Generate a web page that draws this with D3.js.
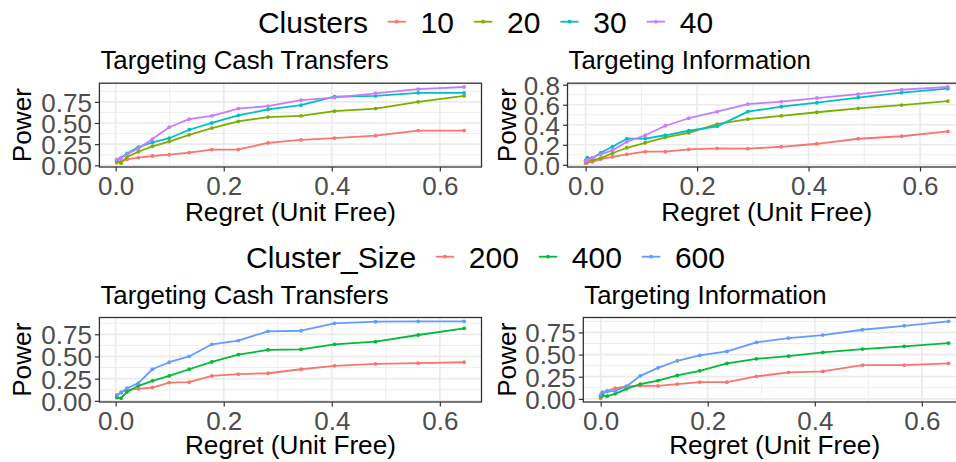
<!DOCTYPE html>
<html><head><meta charset="utf-8">
<script src="https://cdn.jsdelivr.net/npm/d3@7"></script>
<style>body{margin:0;background:#fff}svg{display:block}</style>
</head><body>
<svg id="c" width="956" height="462"></svg>
<script>
// ---------- data ----------
const clusterLevels = ["10", "20", "30", "40"];
const clusterColors = ["#F8766D", "#7CAE00", "#00BFC4", "#C77CFF"];
const sizeLevels = ["200", "400", "600"];
const sizeColors = ["#F8766D", "#00BA38", "#619CFF"];

const panelTitles = ["Targeting Cash Transfers", "Targeting Information"];
const xTickValues = [0, 0.2, 0.4, 0.6];
const yTicksQuarter = [0, 0.25, 0.5, 0.75];
const yTicksFifth = [0, 0.2, 0.4, 0.6, 0.8];

const regretCash = [0.002, 0.010, 0.021, 0.042, 0.068, 0.099, 0.136, 0.178, 0.227, 0.282, 0.343, 0.405, 0.481, 0.560, 0.645];
const regretInfo = [0.0, 0.003, 0.012, 0.027, 0.048, 0.074, 0.107, 0.143, 0.185, 0.236, 0.291, 0.351, 0.415, 0.489, 0.567, 0.650];

// Top-left: cash transfers by number of clusters
const cashClusters10 = [0.03, 0.05, 0.07, 0.09, 0.11, 0.125, 0.15, 0.185, 0.187, 0.265, 0.30, 0.32, 0.35, 0.41, 0.41];
const cashClusters20 = [0.05, 0.025, 0.10, 0.16, 0.225, 0.28, 0.36, 0.44, 0.52, 0.57, 0.585, 0.64, 0.67, 0.75, 0.82];
const cashClusters30 = [0.06, 0.09, 0.14, 0.215, 0.27, 0.32, 0.42, 0.50, 0.59, 0.66, 0.71, 0.81, 0.82, 0.855, 0.855];
const cashClusters40 = [0.07, 0.09, 0.13, 0.20, 0.31, 0.45, 0.545, 0.585, 0.67, 0.70, 0.77, 0.80, 0.85, 0.90, 0.925];

// Top-right: information by number of clusters
const infoClusters10 = [0.016, 0.023, 0.03, 0.056, 0.079, 0.105, 0.131, 0.131, 0.154, 0.164, 0.161, 0.18, 0.21, 0.26, 0.285, 0.334];
const infoClusters20 = [0.03, 0.04, 0.046, 0.066, 0.115, 0.17, 0.22, 0.275, 0.318, 0.407, 0.456, 0.489, 0.525, 0.564, 0.597, 0.636];
const infoClusters30 = [0.046, 0.072, 0.066, 0.12, 0.18, 0.26, 0.262, 0.295, 0.34, 0.384, 0.531, 0.58, 0.62, 0.672, 0.72, 0.76];
const infoClusters40 = [0.04, 0.05, 0.07, 0.105, 0.144, 0.23, 0.295, 0.39, 0.465, 0.531, 0.607, 0.63, 0.667, 0.705, 0.75, 0.777];

// Bottom-left: cash transfers by cluster size
const cashSize200 = [0.056, 0.094, 0.124, 0.135, 0.15, 0.206, 0.21, 0.281, 0.30, 0.311, 0.356, 0.394, 0.416, 0.424, 0.435];
const cashSize400 = [0.037, 0.03, 0.10, 0.169, 0.225, 0.281, 0.356, 0.439, 0.521, 0.574, 0.581, 0.637, 0.667, 0.742, 0.817];
const cashSize600 = [0.068, 0.094, 0.142, 0.20, 0.356, 0.435, 0.50, 0.637, 0.679, 0.784, 0.79, 0.874, 0.892, 0.896, 0.896];

// Bottom-right: information by cluster size
const infoSize200 = [0.008, 0.045, 0.09, 0.12, 0.14, 0.15, 0.147, 0.166, 0.188, 0.188, 0.253, 0.30, 0.31, 0.38, 0.38, 0.40];
const infoSize400 = [0.026, 0.038, 0.03, 0.057, 0.113, 0.166, 0.207, 0.264, 0.317, 0.40, 0.452, 0.482, 0.524, 0.562, 0.592, 0.63];
const infoSize600 = [0.045, 0.075, 0.083, 0.09, 0.14, 0.26, 0.35, 0.43, 0.49, 0.535, 0.637, 0.686, 0.72, 0.78, 0.825, 0.875];

// ---------- drawing ----------
const svg = d3.select("#c");
const FONT = "'Liberation Sans', Arial, Helvetica, sans-serif";
const GRID = "#EBEBEB", DARK = "#333333", TICKTXT = "#4D4D4D";

function fmt2(v){ return d3.format(".2f")(v); }
function fmt1(v){ return d3.format(".1f")(v); }

function minors(ticks, dom){
  const step = ticks[1] - ticks[0];
  const out = [];
  for (let i = -1; i < ticks.length; i++) {
    const m = (i < 0 ? ticks[0] - step : ticks[i]) + step / 2;
    if (m > dom[0] && m < dom[1]) out.push(m);
  }
  return out;
}

function panel(cfg){
  const g = svg.append("g");
  const allY = cfg.series.flat();
  const xe = d3.extent(cfg.xs), ye = d3.extent(allY);
  const xr = xe[1] - xe[0], yr = ye[1] - ye[0];
  const x = d3.scaleLinear().domain([xe[0] - 0.05 * xr, xe[1] + 0.05 * xr]).range([cfg.left, cfg.right]);
  const y = d3.scaleLinear().domain([ye[0] - 0.05 * yr, ye[1] + 0.05 * yr]).range([cfg.bottom, cfg.top]);

  // grid
  const xMin = minors(xTickValues, x.domain()), yMin = minors(cfg.yTicks, y.domain());
  g.selectAll(".gxm").data(xMin).join("line")
    .attr("x1", d => x(d)).attr("x2", d => x(d)).attr("y1", cfg.top).attr("y2", cfg.bottom)
    .attr("stroke", GRID).attr("stroke-width", 0.9);
  g.selectAll(".gym").data(yMin).join("line")
    .attr("x1", cfg.left).attr("x2", cfg.right).attr("y1", d => y(d)).attr("y2", d => y(d))
    .attr("stroke", GRID).attr("stroke-width", 0.9);
  g.selectAll(".gx").data(xTickValues).join("line")
    .attr("x1", d => x(d)).attr("x2", d => x(d)).attr("y1", cfg.top).attr("y2", cfg.bottom)
    .attr("stroke", GRID).attr("stroke-width", 1.7);
  g.selectAll(".gy").data(cfg.yTicks).join("line")
    .attr("x1", cfg.left).attr("x2", cfg.right).attr("y1", d => y(d)).attr("y2", d => y(d))
    .attr("stroke", GRID).attr("stroke-width", 1.7);

  // series
  const line = d3.line().x(d => x(d[0])).y(d => y(d[1]));
  cfg.series.forEach((vals, i) => {
    const pts = vals.map((v, j) => [cfg.xs[j], v]);
    g.append("path").datum(pts).attr("d", line).attr("fill", "none")
      .attr("stroke", cfg.colors[i]).attr("stroke-width", 1.8).attr("stroke-linejoin", "round");
    g.selectAll(null).data(pts).join("circle")
      .attr("cx", d => x(d[0])).attr("cy", d => y(d[1])).attr("r", 1.9).attr("fill", cfg.colors[i]);
  });

  // border
  g.append("rect").attr("x", cfg.left).attr("y", cfg.top)
    .attr("width", cfg.right - cfg.left).attr("height", cfg.bottom - cfg.top)
    .attr("fill", "none").attr("stroke", DARK).attr("stroke-width", 1.3);

  // axes
  const ax = g.append("g").attr("transform", `translate(0,${cfg.bottom})`)
    .call(d3.axisBottom(x).tickValues(xTickValues).tickFormat(fmt1).tickSize(4.5).tickPadding(4));
  const ay = g.append("g").attr("transform", `translate(${cfg.left},0)`)
    .call(d3.axisLeft(y).tickValues(cfg.yTicks).tickFormat(cfg.yFmt).tickSize(4.5).tickPadding(3));
  [ax, ay].forEach(a => {
    a.select(".domain").remove();
    a.selectAll("line").attr("stroke", DARK).attr("stroke-width", 1.2);
    a.selectAll("text").attr("fill", TICKTXT).style("font-family", FONT).style("font-size", "26px");
  });
  ax.selectAll("text").attr("y", 28).attr("dy", null);
  ay.selectAll("text").attr("dy", "0.36em");

  // titles
  g.append("text").attr("x", cfg.left + 1).attr("y", cfg.titleY).text(cfg.title)
    .style("font-family", FONT).style("font-size", "25.8px").attr("fill", "#000");
  g.append("text").attr("x", (cfg.left + cfg.right) / 2).attr("y", cfg.xTitleY)
    .attr("text-anchor", "middle").text("Regret (Unit Free)")
    .style("font-family", FONT).style("font-size", "26.2px").attr("fill", "#000");
  g.append("text").attr("transform", `translate(${cfg.x0 + 31},${(cfg.top + cfg.bottom) / 2}) rotate(-90)`)
    .attr("text-anchor", "middle").text("Power")
    .style("font-family", FONT).style("font-size", "26.2px").attr("fill", "#000");
}

function legend(cx, keyY, title, levels, colors){
  const g = svg.append("g");
  const fs = "30px";
  const t = g.append("text").attr("x", 0).attr("y", keyY + 11.3).text(title)
    .style("font-family", FONT).style("font-size", fs).attr("fill", "#000");
  let pos = t.node().getComputedTextLength() + 19.7;
  levels.forEach((lv, i) => {
    g.append("line").attr("x1", pos).attr("x2", pos + 18.3).attr("y1", keyY).attr("y2", keyY)
      .attr("stroke", colors[i]).attr("stroke-width", 1.8);
    g.append("circle").attr("cx", pos + 9.15).attr("cy", keyY).attr("r", 1.9).attr("fill", colors[i]);
    const lt = g.append("text").attr("x", pos + 33).attr("y", keyY + 11.3).text(lv)
      .style("font-family", FONT).style("font-size", fs).attr("fill", "#000");
    pos += 33 + lt.node().getComputedTextLength() + 20;
  });
  const total = pos - 20;
  g.attr("transform", `translate(${cx - total / 2},0)`);
}

legend(485.5, 21.7, "Clusters", clusterLevels, clusterColors);
legend(485.5, 256.7, "Cluster_Size", sizeLevels, sizeColors);

panel({x0: 0, left: 99.4, right: 481.5, top: 83.2, bottom: 167, titleY: 69, xTitleY: 221,
  title: panelTitles[0], xs: regretCash, yTicks: yTicksQuarter, yFmt: fmt2,
  series: [cashClusters10, cashClusters20, cashClusters30, cashClusters40], colors: clusterColors});
panel({x0: 485, left: 567.5, right: 966, top: 83.2, bottom: 167, titleY: 69, xTitleY: 221,
  title: panelTitles[1], xs: regretInfo, yTicks: yTicksFifth, yFmt: fmt1,
  series: [infoClusters10, infoClusters20, infoClusters30, infoClusters40], colors: clusterColors});
panel({x0: 0, left: 99.4, right: 481.5, top: 317.5, bottom: 402, titleY: 304, xTitleY: 454,
  title: panelTitles[0], xs: regretCash, yTicks: yTicksQuarter, yFmt: fmt2,
  series: [cashSize200, cashSize400, cashSize600], colors: sizeColors});
panel({x0: 485, left: 583.3, right: 966, top: 317.5, bottom: 402, titleY: 304, xTitleY: 454,
  title: panelTitles[1], xs: regretInfo, yTicks: yTicksQuarter, yFmt: fmt2,
  series: [infoSize200, infoSize400, infoSize600], colors: sizeColors});
</script>
</body></html>
